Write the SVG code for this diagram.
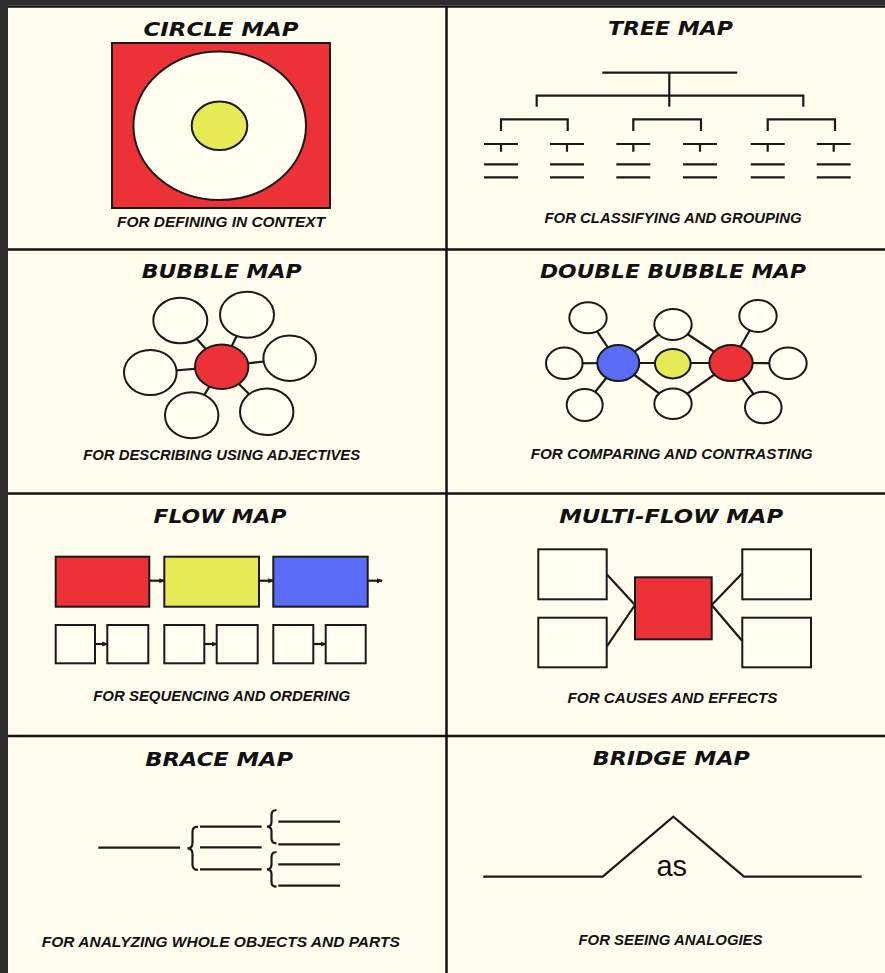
<svg xmlns="http://www.w3.org/2000/svg" width="885" height="973" viewBox="0 0 885 973">
<defs>
<marker id="ah" markerWidth="6" markerHeight="6" refX="5" refY="3" orient="auto" markerUnits="userSpaceOnUse">
<path d="M0,0.5 L6,3 L0,5.5 z" fill="#1a1a1a"/>
</marker>
</defs>
<style>
.title{font-family:"DejaVu Sans",sans-serif;font-weight:bold;font-style:italic;font-size:20px;fill:#111;text-anchor:middle}
.cap{font-family:"Liberation Sans",Arial,sans-serif;font-weight:bold;font-style:italic;font-size:14.5px;fill:#111;text-anchor:middle}
.ln{stroke:#1a1a1a;stroke-width:2.2;fill:none}
.div{stroke:#111;stroke-width:2.5;fill:none}
.w{fill:#fffef0;stroke:#1a1a1a;stroke-width:2}
.red{fill:#ec3237;stroke:#1a1a1a;stroke-width:2}
.yel{fill:#e6ea55;stroke:#1a1a1a;stroke-width:2}
.blu{fill:#5a6cf5;stroke:#1a1a1a;stroke-width:2}
</style>
<rect x="0" y="0" width="885" height="973" fill="#2e2e2e"/>
<rect x="8" y="5" width="877" height="968" fill="#fffeee"/>
<g id="grid">
<line class="div" x1="8" y1="6.5" x2="885" y2="6.5"/>
<line class="div" x1="446.5" y1="6" x2="446.5" y2="973"/>
<line class="div" x1="8" y1="249.5" x2="885" y2="249.5"/>
<line class="div" x1="8" y1="493.5" x2="885" y2="493.5"/>
<line class="div" x1="8" y1="736" x2="885" y2="736"/>
</g>

<!-- CIRCLE MAP -->
<g id="circle-map">
<text class="title" x="221" y="36" textLength="155" lengthAdjust="spacingAndGlyphs">CIRCLE MAP</text>
<rect class="red" x="112" y="43" width="218" height="165"/>
<ellipse class="w" cx="219.7" cy="125.8" rx="86.3" ry="74.2"/>
<ellipse class="yel" cx="219.5" cy="125.8" rx="27.8" ry="24.2"/>
<text class="cap" x="221" y="226.7" textLength="208" lengthAdjust="spacingAndGlyphs">FOR DEFINING IN CONTEXT</text>
</g>

<!-- TREE MAP -->
<g id="tree-map">
<text class="title" x="670.5" y="35" textLength="125" lengthAdjust="spacingAndGlyphs">TREE MAP</text>
<g class="ln">
<path d="M602.3,72.7 H737.3 M669.3,72.7 V106.7 M536.7,106.7 V95.7 H803.3 V106.7"/>
<path d="M501,131 V119.3 H567.7 V131 M633.3,131 V119.3 H701 V131 M767.7,131 V119.3 H835 V131"/>
<path d="M484,144 H518 M501,144 V151.7 M484,164.3 H518 M484,177.3 H518"/>
<path d="M550,144 H584 M567,144 V151.7 M550,164.3 H584 M550,177.3 H584"/>
<path d="M616.3,144 H650.3 M633.3,144 V151.7 M616.3,164.3 H650.3 M616.3,177.3 H650.3"/>
<path d="M683,144 H717 M700,144 V151.7 M683,164.3 H717 M683,177.3 H717"/>
<path d="M750.7,144 H784.7 M767.7,144 V151.7 M750.7,164.3 H784.7 M750.7,177.3 H784.7"/>
<path d="M816.7,144 H850.7 M833.7,144 V151.7 M816.7,164.3 H850.7 M816.7,177.3 H850.7"/>
</g>
<text class="cap" x="673" y="223.3" textLength="257" lengthAdjust="spacingAndGlyphs">FOR CLASSIFYING AND GROUPING</text>
</g>

<!-- BUBBLE MAP -->
<g id="bubble-map">
<text class="title" x="221.7" y="278.3" textLength="160" lengthAdjust="spacingAndGlyphs">BUBBLE MAP</text>
<g id="bubble-connectors" class="ln" stroke-width="2">
<line x1="221.7" y1="366.7" x2="180.3" y2="320.5"/>
<line x1="221.7" y1="366.7" x2="247" y2="314.7"/>
<line x1="221.7" y1="366.7" x2="289.7" y2="358.3"/>
<line x1="221.7" y1="366.7" x2="150.3" y2="372.5"/>
<line x1="221.7" y1="366.7" x2="191.7" y2="415.3"/>
<line x1="221.7" y1="366.7" x2="266.7" y2="411.7"/>
</g>
<ellipse class="w" cx="180.3" cy="320.5" rx="27" ry="22.8"/>
<ellipse class="w" cx="247" cy="314.7" rx="27" ry="23"/>
<ellipse class="w" cx="289.7" cy="358.3" rx="26.3" ry="22.7"/>
<ellipse class="w" cx="150.3" cy="372.5" rx="26.3" ry="22.5"/>
<ellipse class="w" cx="191.7" cy="415.3" rx="26.7" ry="23"/>
<ellipse class="w" cx="266.7" cy="411.7" rx="26.7" ry="23.3"/>
<ellipse class="red" cx="221.7" cy="366.7" rx="26.7" ry="22.3"/>
<text class="cap" x="221.7" y="460" textLength="277" lengthAdjust="spacingAndGlyphs">FOR DESCRIBING USING ADJECTIVES</text>
</g>

<!-- DOUBLE BUBBLE MAP -->
<g id="double-bubble-map">
<text class="title" x="673" y="278.3" textLength="266" lengthAdjust="spacingAndGlyphs">DOUBLE BUBBLE MAP</text>
<g id="double-bubble-connectors" class="ln" stroke-width="2">
<line x1="618.3" y1="363" x2="588" y2="317.8"/>
<line x1="618.3" y1="363" x2="564.3" y2="363.3"/>
<line x1="618.3" y1="363" x2="584.7" y2="405"/>
<line x1="618.3" y1="363" x2="673" y2="324.5"/>
<line x1="618.3" y1="363" x2="673" y2="403.7"/>
<line x1="618.3" y1="363" x2="731" y2="363"/>
<line x1="731" y1="363" x2="758" y2="316"/>
<line x1="731" y1="363" x2="788" y2="363.3"/>
<line x1="731" y1="363" x2="763.3" y2="407.5"/>
<line x1="731" y1="363" x2="673" y2="324.5"/>
<line x1="731" y1="363" x2="673" y2="403.7"/>
</g>
<ellipse class="w" cx="588" cy="317.8" rx="18.7" ry="15.5"/>
<ellipse class="w" cx="673" cy="324.5" rx="18.7" ry="15.5"/>
<ellipse class="w" cx="758" cy="316" rx="18.7" ry="16"/>
<ellipse class="w" cx="564.3" cy="363.3" rx="18.3" ry="15.7"/>
<ellipse class="w" cx="788" cy="363.3" rx="18.7" ry="15.7"/>
<ellipse class="w" cx="584.7" cy="405" rx="18" ry="16"/>
<ellipse class="w" cx="673" cy="403.7" rx="18.7" ry="15.3"/>
<ellipse class="w" cx="763.3" cy="407.5" rx="18.3" ry="15.8"/>
<ellipse class="blu" cx="618.3" cy="363" rx="21" ry="18"/>
<ellipse class="yel" cx="672.8" cy="363.7" rx="17.8" ry="14.7"/>
<ellipse class="red" cx="731" cy="363" rx="21.7" ry="18"/>
<text class="cap" x="671.7" y="459.3" textLength="282" lengthAdjust="spacingAndGlyphs">FOR COMPARING AND CONTRASTING</text>
</g>

<!-- FLOW MAP -->
<g id="flow-map">
<text class="title" x="220" y="523.3" textLength="133" lengthAdjust="spacingAndGlyphs">FLOW MAP</text>
<g id="flow-connectors" class="ln" stroke-width="1.6">
<line x1="149.3" y1="580.7" x2="164.3" y2="580.7" marker-end="url(#ah)"/>
<line x1="259" y1="580.7" x2="273.3" y2="580.7" marker-end="url(#ah)"/>
<line x1="367.7" y1="580.7" x2="382" y2="580.7" marker-end="url(#ah)"/>
<line x1="95" y1="644" x2="107.3" y2="644" marker-end="url(#ah)"/>
<line x1="204.3" y1="644" x2="216.7" y2="644" marker-end="url(#ah)"/>
<line x1="313.3" y1="644" x2="325.7" y2="644" marker-end="url(#ah)"/>
</g>
<rect class="red" x="55.7" y="556.7" width="93.6" height="50"/>
<rect class="yel" x="164.3" y="556.7" width="94.7" height="50"/>
<rect class="blu" x="273.3" y="556.7" width="94.4" height="50"/>
<rect class="w" x="55.7" y="625" width="39.3" height="38.3"/>
<rect class="w" x="107.3" y="625" width="41" height="38.3"/>
<rect class="w" x="164.3" y="625" width="40" height="38.3"/>
<rect class="w" x="216.7" y="625" width="41" height="38.3"/>
<rect class="w" x="273.3" y="625" width="40" height="38.3"/>
<rect class="w" x="325.7" y="625" width="40" height="38.3"/>
<text class="cap" x="221.7" y="700.7" textLength="257" lengthAdjust="spacingAndGlyphs">FOR SEQUENCING AND ORDERING</text>
</g>

<!-- MULTI-FLOW MAP -->
<g id="multi-flow-map">
<text class="title" x="671.2" y="523.3" textLength="224" lengthAdjust="spacingAndGlyphs">MULTI-FLOW MAP</text>
<g id="multi-flow-connectors" class="ln">
<line x1="606.7" y1="574.3" x2="635" y2="605"/>
<line x1="606.7" y1="646.7" x2="635" y2="605"/>
<line x1="711.7" y1="605" x2="742.3" y2="573.3"/>
<line x1="711.7" y1="605" x2="742.3" y2="641"/>
</g>
<rect class="w" x="538.3" y="549.3" width="68.4" height="50"/>
<rect class="w" x="538.3" y="617.7" width="68.4" height="49.6"/>
<rect class="w" x="742.3" y="549.3" width="68.7" height="50"/>
<rect class="w" x="742.3" y="617.7" width="68.7" height="49.6"/>
<rect class="red" x="635" y="577.3" width="76.7" height="62"/>
<text class="cap" x="672.5" y="703.3" textLength="210" lengthAdjust="spacingAndGlyphs">FOR CAUSES AND EFFECTS</text>
</g>

<!-- BRACE MAP -->
<g id="brace-map">
<text class="title" x="219.2" y="765.7" textLength="148" lengthAdjust="spacingAndGlyphs">BRACE MAP</text>
<g class="ln" stroke-width="2.4">
<line x1="98.3" y1="847.7" x2="180" y2="847.7"/>
<path d="M198,826.7 Q192.5,826.7 192.5,832 L192.5,842.5 Q192.5,848.3 187.5,848.3 Q192.5,848.3 192.5,854 L192.5,864.5 Q192.5,870 198,870"/>
<line x1="200" y1="826.7" x2="261.7" y2="826.7"/>
<line x1="200" y1="847.3" x2="261.7" y2="847.3"/>
<line x1="200" y1="869.3" x2="261.7" y2="869.3"/>
<path d="M276.5,810 Q271.5,810 271.5,815 L271.5,822 Q271.5,826.7 267,826.7 Q271.5,826.7 271.5,831.5 L271.5,838.5 Q271.5,843.3 276.5,843.3"/>
<path d="M276.5,852 Q271.5,852 271.5,857 L271.5,864.5 Q271.5,869.3 267,869.3 Q271.5,869.3 271.5,874 L271.5,882 Q271.5,886.7 276.5,886.7"/>
<line x1="278.3" y1="821.7" x2="340" y2="821.7"/>
<line x1="278.3" y1="844.3" x2="340" y2="844.3"/>
<line x1="278.3" y1="864.3" x2="340" y2="864.3"/>
<line x1="278.3" y1="885.7" x2="340" y2="885.7"/>
</g>
<text class="cap" x="220.8" y="946.7" textLength="358" lengthAdjust="spacingAndGlyphs">FOR ANALYZING WHOLE OBJECTS AND PARTS</text>
</g>

<!-- BRIDGE MAP -->
<g id="bridge-map">
<text class="title" x="671.3" y="765" textLength="157" lengthAdjust="spacingAndGlyphs">BRIDGE MAP</text>
<polyline class="ln" points="483.3,876.7 602.7,876.7 673.3,816.7 744,876.7 861.7,876.7"/>
<text x="671.7" y="875.7" font-family="Liberation Sans, Arial, sans-serif" font-size="29" fill="#111" text-anchor="middle">as</text>
<text class="cap" x="670.5" y="945" textLength="184" lengthAdjust="spacingAndGlyphs">FOR SEEING ANALOGIES</text>
</g>
</svg>
